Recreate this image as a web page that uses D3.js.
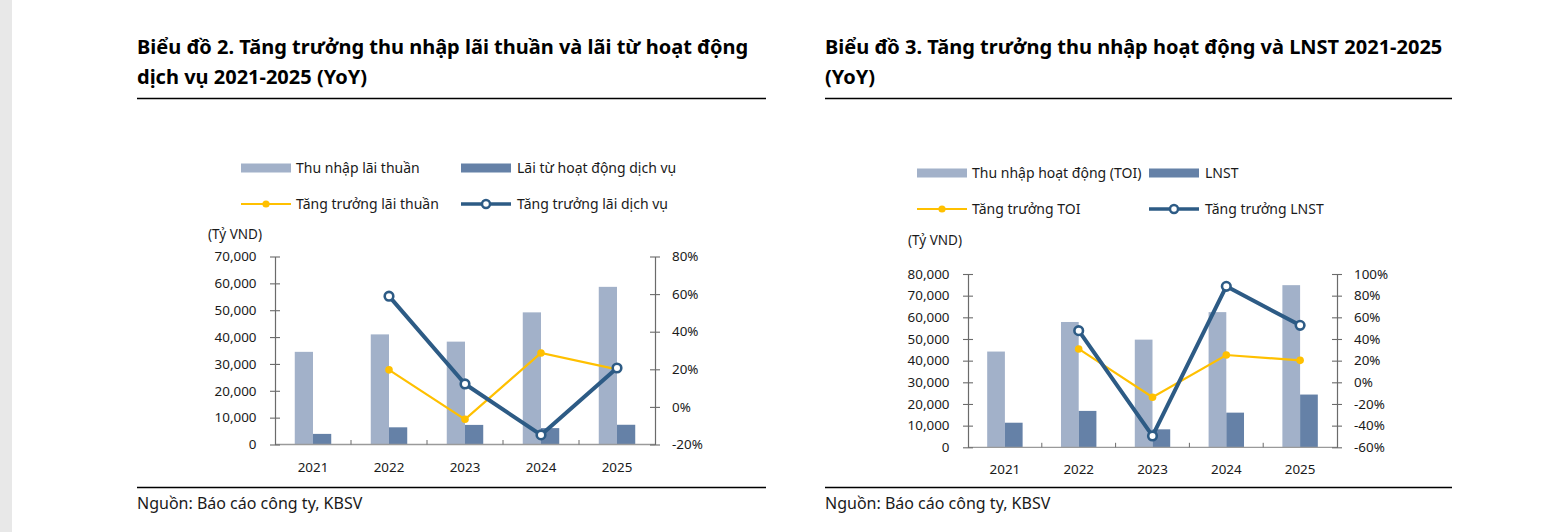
<!DOCTYPE html>
<html><head><meta charset="utf-8">
<script src="https://cdn.jsdelivr.net/npm/d3@7"></script>
<style>
html,body{margin:0;padding:0;background:#fff;}
svg{display:block;font-family:"Noto Sans",sans-serif;}
</style></head>
<body>
<svg id="c" width="1567" height="532"></svg>
<script>
// ---------- data ----------
const years = ["2021","2022","2023","2024","2025"];

// Chart 2
const niiValues = [34500, 41000, 38300, 49200, 58700];      // Thu nhập lãi thuần
const feeValues = [3950, 6400, 7300, 6100, 7350];           // Lãi từ hoạt động dịch vụ
const niiGrowth = [null, 0.197, -0.066, 0.287, 0.200];      // Tăng trưởng lãi thuần
const feeGrowth = [null, 0.589, 0.122, -0.149, 0.207];      // Tăng trưởng lãi dịch vụ
const leftTicks1 = [0,10000,20000,30000,40000,50000,60000,70000];
const rightTicks1 = [-0.2,0,0.2,0.4,0.6,0.8];

// Chart 3
const toiValues = [44200, 57850, 49700, 62400, 74850];      // Thu nhập hoạt động (TOI)
const lnstValues = [11350, 16800, 8300, 16000, 24350];      // LNST
const toiGrowth = [null, 0.308, -0.138, 0.252, 0.203];      // Tăng trưởng TOI
const lnstGrowth = [null, 0.477, -0.495, 0.886, 0.526];     // Tăng trưởng LNST
const leftTicks2 = [0,10000,20000,30000,40000,50000,60000,70000,80000];
const rightTicks2 = [-0.6,-0.4,-0.2,0,0.2,0.4,0.6,0.8,1.0];

const COL_LIGHT = "#a2b1c9", COL_DARK = "#6581a7", COL_YEL = "#ffc000", COL_BLUE = "#2d5b85";
const AXIS_COL = "#6b6b6b", TXT = "#1a1a1a";

const svg = d3.select("#c");
svg.append("rect").attr("x",0).attr("y",0).attr("width",12).attr("height",532).attr("fill","#e8e8e8");

const fmtNum = d3.format(",");
const fmtPct = d => Math.round(d*100) + "%";

function drawChart(cfg){
  const g = svg.append("g");
  // title
  const t = g.append("text").attr("x",cfg.left).attr("font-weight",700).attr("font-size",20).attr("fill","#000");
  cfg.title.forEach((line,i)=>{
    t.append("tspan").attr("x",cfg.left).attr("y",54 + i*30).text(line);
  });
  g.append("line").attr("x1",cfg.left).attr("x2",cfg.right).attr("y1",98.5).attr("y2",98.5).attr("stroke","#000").attr("stroke-width",1.3);
  g.append("line").attr("x1",cfg.left).attr("x2",cfg.right).attr("y1",487.5).attr("y2",487.5).attr("stroke","#000").attr("stroke-width",1.3);
  g.append("text").attr("x",cfg.left).attr("y",509).attr("font-size",16).attr("fill",TXT).text("Nguồn: Báo cáo công ty, KBSV");

  // legend
  const L = cfg.legend;
  const lg = g.append("g").attr("font-size",14).attr("fill",TXT);
  lg.append("rect").attr("x",L.c1).attr("y",L.r1-4.5).attr("width",50).attr("height",9).attr("fill",COL_LIGHT);
  lg.append("text").attr("x",L.c1+55).attr("y",L.r1+5).text(cfg.names[0]);
  lg.append("rect").attr("x",L.c2).attr("y",L.r1-4.5).attr("width",50).attr("height",9).attr("fill",COL_DARK);
  lg.append("text").attr("x",L.c2+56).attr("y",L.r1+5).text(cfg.names[1]);
  lg.append("line").attr("x1",L.c1).attr("x2",L.c1+50).attr("y1",L.r2).attr("y2",L.r2).attr("stroke",COL_YEL).attr("stroke-width",2);
  lg.append("circle").attr("cx",L.c1+25).attr("cy",L.r2).attr("r",3.6).attr("fill",COL_YEL);
  lg.append("text").attr("x",L.c1+55).attr("y",L.r2+5).text(cfg.names[2]);
  lg.append("line").attr("x1",L.c2).attr("x2",L.c2+50).attr("y1",L.r2).attr("y2",L.r2).attr("stroke",COL_BLUE).attr("stroke-width",3.5);
  lg.append("circle").attr("cx",L.c2+25).attr("cy",L.r2).attr("r",4).attr("fill","#fff").attr("stroke",COL_BLUE).attr("stroke-width",2.5);
  lg.append("text").attr("x",L.c2+56).attr("y",L.r2+5).text(cfg.names[3]);

  // unit
  g.append("text").attr("x",cfg.unitX).attr("y",cfg.unitY).attr("font-size",13.5).attr("fill",TXT).text("(Tỷ VND)");

  // scales
  const x = d3.scaleBand().domain(years).range([cfg.x0,cfg.x1]).paddingInner(0).paddingOuter(0);
  const yL = d3.scaleLinear().domain(cfg.leftDomain).range([cfg.yB,cfg.yT]);
  const yR = d3.scaleLinear().domain(cfg.rightDomain).range([cfg.yB,cfg.yT]);
  const bw = x.bandwidth()*0.24;

  // bars
  g.append("g").selectAll("rect").data(cfg.bars1).join("rect")
    .attr("x",(d,i)=>x(years[i])+x.bandwidth()/2-bw).attr("width",bw)
    .attr("y",d=>yL(d)).attr("height",d=>yL(0)-yL(d)).attr("fill",COL_LIGHT);
  g.append("g").selectAll("rect").data(cfg.bars2).join("rect")
    .attr("x",(d,i)=>x(years[i])+x.bandwidth()/2).attr("width",bw)
    .attr("y",d=>yL(d)).attr("height",d=>yL(0)-yL(d)).attr("fill",COL_DARK);

  // x axis baseline + boundary ticks
  g.append("line").attr("x1",cfg.x0).attr("x2",cfg.x1).attr("y1",cfg.yB).attr("y2",cfg.yB).attr("stroke","#9a9a9a").attr("stroke-width",1.3);
  g.append("g").selectAll("line").data(years.slice(1)).join("line")
    .attr("x1",d=>x(d)).attr("x2",d=>x(d)).attr("y1",cfg.yB-4.5).attr("y2",cfg.yB).attr("stroke",AXIS_COL).attr("stroke-width",1);
  const xa = g.append("g").attr("transform",`translate(0,${cfg.yB})`)
    .call(d3.axisBottom(x).tickSize(0).tickPadding(0));
  xa.select(".domain").remove();
  xa.selectAll("text").attr("font-family","Noto Sans").attr("font-size",13.4).attr("fill",TXT).attr("dy",null).attr("y",cfg.yearY-cfg.yB);

  // left axis
  const la = g.append("g").attr("transform",`translate(${cfg.x0},0)`)
    .call(d3.axisLeft(yL).tickValues(cfg.leftTicks).tickFormat(fmtNum).tickSize(5).tickSizeOuter(0));
  la.select(".domain").attr("stroke",AXIS_COL).attr("stroke-width",1.2);
  la.selectAll(".tick line").attr("x1",5).attr("x2",-5).attr("stroke",AXIS_COL).attr("stroke-width",1.1);
  la.selectAll(".tick text").attr("x",-18.5).attr("font-family","Noto Sans").attr("font-size",13.4).attr("fill",TXT);

  // right axis
  const ra = g.append("g").attr("transform",`translate(${cfg.x1},0)`)
    .call(d3.axisRight(yR).tickValues(cfg.rightTicks).tickFormat(fmtPct).tickSize(5).tickSizeOuter(0));
  ra.select(".domain").attr("stroke",AXIS_COL).attr("stroke-width",1.2);
  ra.selectAll(".tick line").attr("x1",-5).attr("x2",5).attr("stroke",AXIS_COL).attr("stroke-width",1.1);
  ra.selectAll(".tick text").attr("x",17).attr("font-family","Noto Sans").attr("font-size",13.4).attr("fill",TXT);

  const cx = i => x(years[i]) + x.bandwidth()/2;
  const line = d3.line().defined(d=>d!=null).x((d,i)=>cx(i)).y(d=>yR(d));

  // yellow growth line
  g.append("path").datum(cfg.g1).attr("d",line).attr("fill","none").attr("stroke",COL_YEL).attr("stroke-width",2.2);
  g.append("g").selectAll("circle").data(cfg.g1.map((v,i)=>({v,i})).filter(d=>d.v!=null)).join("circle")
    .attr("cx",d=>cx(d.i)).attr("cy",d=>yR(d.v)).attr("r",3.8).attr("fill",COL_YEL);

  // blue growth line
  g.append("path").datum(cfg.g2).attr("d",line).attr("fill","none").attr("stroke",COL_BLUE).attr("stroke-width",4).attr("stroke-linejoin","round");
  g.append("g").selectAll("circle").data(cfg.g2.map((v,i)=>({v,i})).filter(d=>d.v!=null)).join("circle")
    .attr("cx",d=>cx(d.i)).attr("cy",d=>yR(d.v)).attr("r",4.3).attr("fill","#fff").attr("stroke",COL_BLUE).attr("stroke-width",2.6);
}

drawChart({
  left:137, right:766,
  title:["Biểu đồ 2. Tăng trưởng thu nhập lãi thuần và lãi từ hoạt động","dịch vụ 2021-2025 (YoY)"],
  names:["Thu nhập lãi thuần","Lãi từ hoạt động dịch vụ","Tăng trưởng lãi thuần","Tăng trưởng lãi dịch vụ"],
  legend:{c1:241,c2:461,r1:168,r2:204},
  unitX:208, unitY:239,
  x0:275, x1:655, yT:256.5, yB:444.5, yearY:471.5,
  leftDomain:[0,70000], rightDomain:[-0.2,0.8],
  leftTicks:leftTicks1, rightTicks:rightTicks1,
  bars1:niiValues, bars2:feeValues, g1:niiGrowth, g2:feeGrowth
});

drawChart({
  left:825, right:1452,
  title:["Biểu đồ 3. Tăng trưởng thu nhập hoạt động và LNST 2021-2025","(YoY)"],
  names:["Thu nhập hoạt động (TOI)","LNST","Tăng trưởng TOI","Tăng trưởng LNST"],
  legend:{c1:917,c2:1149,r1:173,r2:209},
  unitX:908, unitY:245,
  x0:968, x1:1337, yT:274, yB:447.3, yearY:474.5,
  leftDomain:[0,80000], rightDomain:[-0.6,1.0],
  leftTicks:leftTicks2, rightTicks:rightTicks2,
  bars1:toiValues, bars2:lnstValues, g1:toiGrowth, g2:lnstGrowth
});
</script>
</body></html>
